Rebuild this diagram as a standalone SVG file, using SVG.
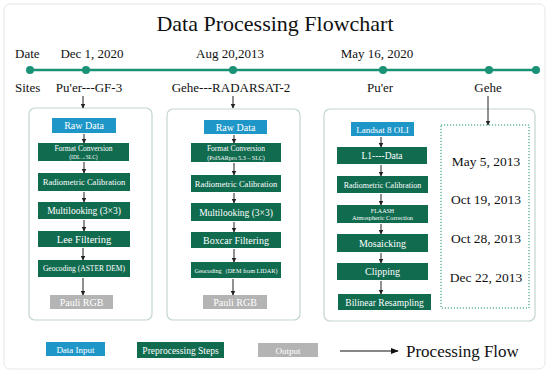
<svg xmlns="http://www.w3.org/2000/svg" width="550" height="374" viewBox="0 0 550 374">
<defs>
<marker id="ah" viewBox="0 0 10 10" refX="9" refY="5" markerWidth="5" markerHeight="5" orient="auto" markerUnits="userSpaceOnUse"><path d="M0,0 L10,5 L0,10 z" fill="#222"/></marker>
<marker id="ahL" viewBox="0 0 10 10" refX="9" refY="5" markerWidth="8" markerHeight="8" orient="auto" markerUnits="userSpaceOnUse"><path d="M0,1 L10,5 L0,9 z" fill="#111"/></marker>
</defs>
<style>
text{font-family:"Liberation Serif","Times New Roman",serif;}
.lbl{font-size:13px;fill:#111;}
.g{fill:#106b4f;}
.b{fill:#1e96c8;}
.gr{fill:#b4b4b4;}
.wt{fill:#fff;text-anchor:middle;}
.panel{fill:#fff;stroke:#c3d6cf;stroke-width:1.2;}
.ar{stroke:#222;stroke-width:1;fill:none;marker-end:url(#ah);}
.dot{fill:#1a9276;}
.date{font-size:13.5px;fill:#111;text-anchor:middle;}
</style>
<rect x="4" y="4" width="541" height="365" rx="6" fill="#fff" stroke="#e6e6e6" stroke-width="1"/>
<text x="275" y="31" text-anchor="middle" font-size="22" fill="#111">Data Processing Flowchart</text>
<g id="timeline">
<line x1="30" y1="70" x2="536" y2="70" stroke="#1a9276" stroke-width="2.5"/>
<circle class="dot" cx="30" cy="70" r="4"/>
<circle class="dot" cx="86" cy="70" r="4"/>
<circle class="dot" cx="233" cy="70" r="4"/>
<circle class="dot" cx="383" cy="70" r="4"/>
<circle class="dot" cx="489" cy="70" r="4"/>
<circle class="dot" cx="536" cy="70" r="4"/>
<text class="lbl" x="15" y="58">Date</text>
<text class="lbl" x="92" y="58" text-anchor="middle">Dec 1, 2020</text>
<text class="lbl" x="230" y="58" text-anchor="middle">Aug 20,2013</text>
<text class="lbl" x="377" y="58" text-anchor="middle">May 16, 2020</text>
<text class="lbl" x="15" y="92">Sites</text>
<text class="lbl" x="89" y="92" text-anchor="middle">Pu'er---GF-3</text>
<text class="lbl" x="231" y="92" text-anchor="middle">Gehe---RADARSAT-2</text>
<text class="lbl" x="380" y="92" text-anchor="middle">Pu'er</text>
<text class="lbl" x="488" y="92" text-anchor="middle">Gehe</text>
</g>
<g id="panel1">
<rect class="panel" x="29" y="108" width="123" height="212" rx="6"/>
<rect class="b" x="52" y="118" width="64" height="15"/><text class="wt" x="84" y="129" font-size="10">Raw Data</text>
<rect class="g" x="38" y="143" width="91" height="18"/><text class="wt" x="83.5" y="151" font-size="7.5">Format Conversion</text><text class="wt" x="83.5" y="159" font-size="5.5">(IDL→SLC)</text>
<rect class="g" x="38" y="173" width="92" height="18"/><text class="wt" x="84" y="185" font-size="8.5">Radiometric Calibration</text>
<rect class="g" x="38" y="202" width="92" height="17"/><text class="wt" x="84" y="214" font-size="9.5">Multilooking (3×3)</text>
<rect class="g" x="38" y="231" width="92" height="16"/><text class="wt" x="84" y="243" font-size="10.5">Lee Filtering</text>
<rect class="g" x="38" y="260" width="92" height="17"/><text class="wt" x="84" y="271" font-size="7.5">Geocoding (ASTER DEM)</text>
<rect class="gr" x="50" y="295" width="63" height="14"/><text class="wt" x="81.5" y="306" font-size="10">Pauli RGB</text>
</g>
<g id="panel2">
<rect class="panel" x="167" y="109" width="133" height="211" rx="6"/>
<rect class="b" x="204" y="120" width="63" height="14"/><text class="wt" x="235.5" y="131" font-size="10">Raw Data</text>
<rect class="g" x="191" y="143" width="90" height="19"/><text class="wt" x="236" y="151" font-size="7.5">Format Conversion</text><text class="wt" x="236" y="159.5" font-size="6">(PolSARpro 5.3→SLC)</text>
<rect class="g" x="191" y="175" width="90" height="17"/><text class="wt" x="236" y="187" font-size="8.5">Radiometric Calibration</text>
<rect class="g" x="191" y="203" width="90" height="18"/><text class="wt" x="236" y="215.5" font-size="9.5">Multilooking (3×3)</text>
<rect class="g" x="191" y="232" width="90" height="16"/><text class="wt" x="236" y="244" font-size="10">Boxcar Filtering</text>
<rect class="g" x="191" y="262" width="90" height="16"/><text class="wt" x="236" y="273" font-size="6.2">Geocoding（DEM from LIDAR)</text>
<rect class="gr" x="203" y="295" width="64" height="14"/><text class="wt" x="235" y="306" font-size="10">Pauli RGB</text>
</g>
<g id="panel3">
<rect class="panel" x="324" y="109" width="211" height="212" rx="6"/>
<rect class="b" x="351" y="122" width="63" height="14"/><text class="wt" x="382.5" y="132.5" font-size="9">Landsat 8 OLI</text>
<rect class="g" x="337" y="147" width="90" height="17"/><text class="wt" x="382" y="159" font-size="9.5">L1----Data</text>
<rect class="g" x="337" y="176" width="91" height="17"/><text class="wt" x="382.5" y="188" font-size="8">Radiometric Calibration</text>
<rect class="g" x="337" y="205" width="91" height="18"/><text class="wt" x="382.5" y="212.5" font-size="6">FLAASH</text><text class="wt" x="382.5" y="220" font-size="6.3">Atmospheric  Correction</text>
<rect class="g" x="337" y="234" width="91" height="18"/><text class="wt" x="382.5" y="246.5" font-size="10">Mosaicking</text>
<rect class="g" x="337" y="263" width="91" height="17"/><text class="wt" x="382.5" y="275" font-size="10">Clipping</text>
<rect class="g" x="338" y="294" width="93" height="16"/><text class="wt" x="384.5" y="306" font-size="9.5">Bilinear Resampling</text>
</g>
<g id="gehe-dates">
<rect x="441" y="125" width="88" height="183" fill="none" stroke="#1a9276" stroke-width="1" stroke-dasharray="1.2,1.8"/>
<text class="date" x="486" y="166">May 5, 2013</text>
<text class="date" x="486" y="204">Oct 19, 2013</text>
<text class="date" x="486" y="243">Oct 28, 2013</text>
<text class="date" x="486" y="282">Dec 22, 2013</text>
</g>
<g id="connectors">
<line class="ar" x1="83" y1="96" x2="83" y2="108"/>
<line class="ar" x1="233" y1="96" x2="233" y2="108"/>
<line class="ar" x1="488" y1="96" x2="488" y2="125"/>
<line class="ar" x1="84" y1="134" x2="84" y2="143"/>
<line class="ar" x1="84" y1="162" x2="84" y2="173"/>
<line class="ar" x1="84" y1="192" x2="84" y2="202"/>
<line class="ar" x1="84" y1="220" x2="84" y2="231"/>
<line class="ar" x1="83" y1="248" x2="83" y2="260"/>
<line class="ar" x1="83" y1="278" x2="83" y2="295"/>
<line class="ar" x1="234" y1="135" x2="234" y2="143"/>
<line class="ar" x1="234" y1="163" x2="234" y2="175"/>
<line class="ar" x1="234" y1="193" x2="234" y2="203"/>
<line class="ar" x1="234" y1="222" x2="234" y2="232"/>
<line class="ar" x1="234" y1="249" x2="234" y2="262"/>
<line class="ar" x1="233" y1="279" x2="233" y2="295"/>
<line class="ar" x1="381" y1="137" x2="381" y2="147"/>
<line class="ar" x1="381" y1="165" x2="381" y2="176"/>
<line class="ar" x1="381" y1="194" x2="381" y2="205"/>
<line class="ar" x1="381" y1="224" x2="381" y2="234"/>
<line class="ar" x1="381" y1="253" x2="381" y2="263"/>
<line class="ar" x1="381" y1="281" x2="381" y2="294"/>
</g>
<g id="legend">
<rect class="b" x="46" y="342" width="59" height="14"/><text class="wt" x="75.5" y="352.5" font-size="9">Data Input</text>
<rect class="g" x="137" y="342" width="87" height="16"/><text class="wt" x="180.5" y="353.5" font-size="9.5">Preprocessing Steps</text>
<rect class="gr" x="258" y="343" width="60" height="14"/><text class="wt" x="288" y="353.5" font-size="9">Output</text>
<line x1="340" y1="351" x2="398" y2="351" stroke="#111" stroke-width="1.2" marker-end="url(#ahL)"/>
<text x="406" y="357" font-size="17" fill="#111">Processing Flow</text>
</g>
</svg>
